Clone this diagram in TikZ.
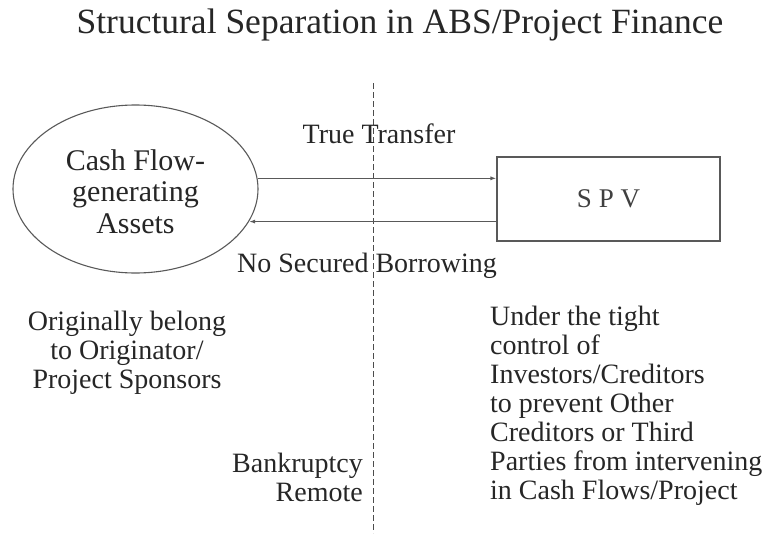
\documentclass[tikz,border=0pt]{standalone}
\usepackage{fontspec}
\setmainfont{Liberation Serif}
\usetikzlibrary{positioning,shapes.geometric,arrows.meta}
\tikzset{lbl/.style={font=\fontsize{28}{29}\selectfont,inner sep=0pt,text=black!85},
         flow/.style={-{Latex[length=6pt,width=4pt]},line width=1.2pt,draw=black!65}
}

\begin{document}
\begin{tikzpicture}[x=1pt,y=-1pt]
  \useasboundingbox (0,0) rectangle (766,533);
  \node[font=\fontsize{35.5}{36}\selectfont,text=black!85,inner sep=0pt,anchor=base] (title) at (400,33) {Structural Separation in ABS/Project Finance};
  \node[ellipse,draw=black!65,line width=1.1pt,minimum width=245pt,minimum height=168pt,inner sep=0pt,
        align=center,font=\fontsize{30}{31.5}\selectfont,text=black!85] (assets) at (135.5,189) {\\[-6pt]Cash Flow-\\generating\\Assets};
  \node[draw=black!65,line width=1.1pt,minimum width=223pt,minimum height=84pt,
        font=\fontsize{27}{29}\selectfont,text=black!75] (spv) at (608.5,199) {S P V};
  \coordinate (top) at (373,83);
  \coordinate (bottom) at (373,533);
  \draw[black!70,line width=1pt,dash pattern=on 6pt off 3pt] (top) -- (bottom);
  \node[lbl] (transfer) at (379,134) {True Transfer};
  \node[lbl] (borrow) at (367,266) {No Secured Borrowing};
  \draw[flow] (assets.5.7) -- (spv.west |- assets.5.7);
  \draw[flow] (spv.west |- assets.-16.3) -- (assets.-16.3);
  \node[lbl,align=center] (origin) at (127,353) {Originally belong\\to Originator/\\Project Sponsors};
  \node[lbl,align=right,anchor=east] (remote) at (363,477) {Bankruptcy\\Remote};
  \node[lbl,align=left,anchor=west] (control) at (490,406) {Under the tight\\control of\\Investors/Creditors\\to prevent Other\\Creditors or Third\\Parties from intervening\\in Cash Flows/Project};
\end{tikzpicture}
\end{document}
